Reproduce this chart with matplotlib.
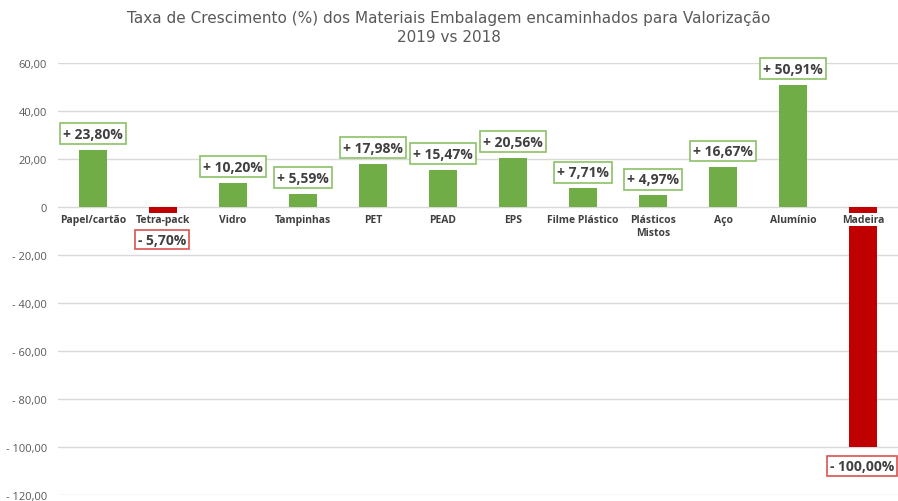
import matplotlib.pyplot as plt

categories = ["Papel/cartão", "Tetra-pack", "Vidro", "Tampinhas", "PET", "PEAD", "EPS",
              "Filme Plástico", "Plásticos\nMistos", "Aço", "Alumínio", "Madeira"]
values = [23.80, -5.70, 10.20, 5.59, 17.98, 15.47, 20.56, 7.71, 4.97, 16.67, 50.91, -100.00]
yticks = [60, 40, 20, 0, -20, -40, -60, -80, -100, -120]
ytick_labels = ["60,00", "40,00", "20,00", "0", "- 20,00", "- 40,00", "- 60,00", "- 80,00", "- 100,00", "- 120,00"]

GREEN = "#70AD47"
RED = "#C00000"
TXT = "#404040"

def fmt(v):
    s = f"{abs(v):.2f}".replace(".", ",")
    return ("+ " if v >= 0 else "- ") + s + "%"

fig = plt.figure(figsize=(8.98, 5.02), dpi=100)
ax = fig.add_axes([58/898, 1 - 496/502, 840/898, 432/502])
x = list(range(len(categories)))
colors = [GREEN if v >= 0 else RED for v in values]
ax.bar(x, values, width=0.4, color=colors, zorder=2)
ax.set_xlim(-0.5, len(categories) - 0.5)
ax.set_ylim(-120, 60)
ax.set_yticks(yticks)
ax.set_yticklabels(ytick_labels, color="#595959", fontsize=8, fontfamily="Open Sans")
ax.tick_params(axis="y", length=0, pad=8)
ax.set_xticks([])
ax.grid(axis="y", color="#D9D9D9", linewidth=1, zorder=0)
for s in ax.spines.values():
    s.set_visible(False)

for xi, cat in zip(x, categories):
    ax.annotate(cat, (xi, 0), xytext=(0, -7), textcoords="offset pixels",
                ha="center", va="top", fontsize=7.5, fontweight="bold", color=TXT,
                fontfamily="Open Sans", linespacing=1.3,
                bbox=dict(boxstyle="square,pad=0.1", fc="white", ec="none"), zorder=3)

for xi, v in zip(x, values):
    if v >= 0:
        ax.annotate(fmt(v), (xi, v), xytext=(0, 16), textcoords="offset pixels",
                    ha="center", va="center", fontsize=10, fontweight="bold", color=TXT,
                    fontfamily="Open Sans",
                    bbox=dict(boxstyle="square,pad=0.25", fc="white", ec="#8CC168", lw=1.2), zorder=4)
    else:
        ax.annotate(fmt(v), (xi, v), xytext=(-1, -19), textcoords="offset pixels",
                    ha="center", va="center", fontsize=10, fontweight="bold", color=TXT,
                    fontfamily="Open Sans",
                    bbox=dict(boxstyle="square,pad=0.2", fc="white", ec="#D9534F", lw=1.2), zorder=4)

fig.text(0.5, 1 - 28/502, "Taxa de Crescimento (%) dos Materiais Embalagem encaminhados para Valorização\n2019 vs 2018",
         ha="center", va="center", fontsize=11, color="#595959", fontfamily="DejaVu Sans", linespacing=1.3)

fig.savefig("out.png", dpi=100, facecolor="white")
